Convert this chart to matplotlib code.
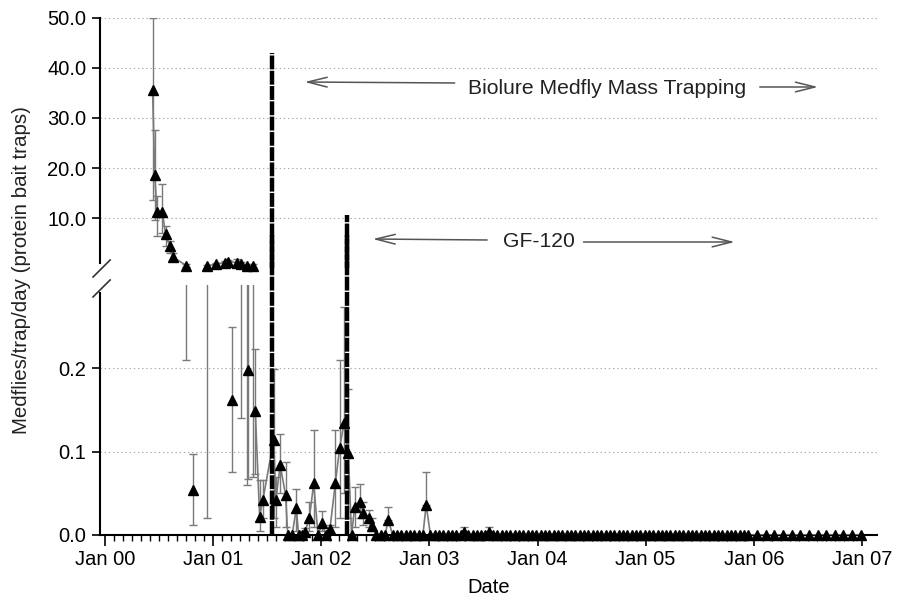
import numpy as np
import matplotlib.pyplot as plt

plt.rcParams['font.family'] = ['Liberation Sans', 'DejaVu Sans']
plt.rcParams['lines.scale_dashes'] = False

# dates are decimal years
# upper panel: high counts in 2000 / early 2001
top_x = [2000.44, 2000.46, 2000.48, 2000.53, 2000.56, 2000.60, 2000.63, 2000.75,
         2000.94, 2001.03, 2001.11, 2001.14, 2001.22, 2001.26, 2001.31, 2001.37]
top_y = [35.5, 18.6, 11.3, 11.3, 6.8, 4.4, 2.2, 0.5,
         0.4, 0.8, 1.1, 1.3, 1.1, 0.9, 0.5, 0.5]
top_lo = [13.6, 9.6, 6.4, 7.0, 4.5, 3.0, 1.5, 0.21,
          0.02, 0.5, 0.7, 0.9, 0.6, 0.14, 0.06, 0.07]
top_hi = [50.0, 27.6, 14.5, 16.8, 8.5, 5.5, 3.0, 0.8,
          0.7, 1.1, 1.5, 1.7, 1.8, 1.3, 0.8, 0.8]
top_split = 8   # first run is 2000, second run is 2001

# lower panel: low counts
low_x = [2000.81, 2001.17, 2001.32, 2001.39, 2001.43, 2001.46, 2001.56, 2001.58, 2001.62, 2001.67,
         2001.69, 2001.73, 2001.77, 2001.79, 2001.82, 2001.85, 2001.89, 2001.93, 2001.97, 2002.01,
         2002.04, 2002.08, 2002.13, 2002.17, 2002.21, 2002.25, 2002.28, 2002.31, 2002.36, 2002.39,
         2002.44, 2002.47]
low_y = [0.054, 0.162, 0.198, 0.149, 0.022, 0.042, 0.114, 0.042, 0.084, 0.048,
         0.0, 0.0, 0.032, 0.0, 0.0, 0.004, 0.020, 0.062, 0.0, 0.014,
         0.0, 0.007, 0.062, 0.104, 0.134, 0.098, 0.0, 0.034, 0.040, 0.026,
         0.020, 0.011]
low_lo = [0.012, 0.076, 0.067, 0.073, 0.005, 0.020, 0.020, 0.010, 0.050, 0.010,
          0.0, 0.0, 0.005, 0.0, 0.0, 0.0, 0.005, 0.010, 0.0, 0.005,
          0.0, 0.0, 0.010, 0.020, 0.050, 0.020, 0.0, 0.010, 0.020, 0.012,
          0.010, 0.005]
low_hi = [0.097, 0.249, 0.400, 0.223, 0.066, 0.066, 0.199, 0.070, 0.121, 0.087,
          0.0, 0.0, 0.055, 0.0, 0.0, 0.008, 0.040, 0.126, 0.0, 0.029,
          0.0, 0.012, 0.126, 0.210, 0.274, 0.175, 0.0, 0.057, 0.061, 0.040,
          0.030, 0.020]
low_split = 3   # first three points stand alone

# 2002.5 - 2007: mostly zero catches
tail_x = [2002.51, 2002.55, 2002.59, 2002.62, 2002.66, 2002.70, 2002.74, 2002.78, 2002.82, 2002.86,
          2002.90, 2002.94, 2002.97, 2003.01, 2003.05, 2003.09, 2003.13, 2003.17, 2003.21, 2003.25,
          2003.29, 2003.32, 2003.36, 2003.40, 2003.44, 2003.48, 2003.51, 2003.55, 2003.59, 2003.63,
          2003.67, 2003.71, 2003.75, 2003.79, 2003.83, 2003.87, 2003.91, 2003.95, 2003.99,
          2004.03, 2004.07, 2004.11, 2004.15, 2004.19, 2004.23, 2004.27, 2004.31, 2004.35, 2004.39,
          2004.43, 2004.47, 2004.51, 2004.55, 2004.59, 2004.63, 2004.67, 2004.71, 2004.75, 2004.79,
          2004.83, 2004.87, 2004.91, 2004.95, 2004.99,
          2005.03, 2005.07, 2005.11, 2005.15, 2005.19, 2005.23, 2005.27, 2005.31, 2005.35, 2005.39,
          2005.43, 2005.47, 2005.51, 2005.55, 2005.59, 2005.63, 2005.67, 2005.71, 2005.75, 2005.79,
          2005.83, 2005.87, 2005.91, 2005.95,
          2006.03, 2006.11, 2006.19, 2006.27, 2006.35, 2006.43, 2006.51, 2006.59, 2006.67, 2006.75,
          2006.83, 2006.91, 2006.99]
tail_y = [0.0] * len(tail_x)
tail_y[3] = 0.018
tail_y[12] = 0.036
tail_y[21] = 0.004
tail_y[27] = 0.004
tail_hi = list(tail_y)
tail_hi[3] = 0.033
tail_hi[12] = 0.075
tail_hi[21] = 0.010
tail_hi[27] = 0.010

# treatment start lines (date, height on upper scale)
biolure_x, biolure_top = 2001.54, 43.0
gf120_x, gf120_top = 2002.24, 10.6

year_ticks = [2000, 2001, 2002, 2003, 2004, 2005, 2006, 2007]
year_labels = ['Jan 00', 'Jan 01', 'Jan 02', 'Jan 03', 'Jan 04', 'Jan 05', 'Jan 06', 'Jan 07']

fig = plt.figure(figsize=(9.02, 6.14), dpi=100)
ax_top = fig.add_axes([0.1109, 0.5635, 0.8614, 0.4072])
ax_bot = fig.add_axes([0.1109, 0.1287, 0.8614, 0.4072])

xlim = (1999.954, 2007.14)
line_col = '#7a7a7a'
ms = 6.5

def draw_series(ax, x, y, lo, hi, connect=True, clip_markers=True):
    x = np.array(x); y = np.array(y)
    yerr = [y - np.array(lo), np.array(hi) - y]
    ax.errorbar(x, y, yerr=yerr, fmt='none', ecolor=line_col, elinewidth=1,
                capsize=3, capthick=1, zorder=2)
    if connect:
        ax.plot(x, y, color=line_col, lw=1.2, zorder=3)
    ax.plot(x, y, ls='none', marker='^', ms=ms, color='black', zorder=4,
            clip_on=clip_markers)

# upper panel
draw_series(ax_top, top_x[:top_split], top_y[:top_split], top_lo[:top_split], top_hi[:top_split], clip_markers=False)
draw_series(ax_top, top_x[top_split:], top_y[top_split:], top_lo[top_split:], top_hi[top_split:], clip_markers=False)

# lower panel (upper-panel points fall off the top, only their error bars show)
draw_series(ax_bot, top_x[:top_split], top_y[:top_split], top_lo[:top_split], top_hi[:top_split])
draw_series(ax_bot, top_x[top_split:], top_y[top_split:], top_lo[top_split:], top_hi[top_split:])
for i in range(low_split):
    draw_series(ax_bot, [low_x[i]], [low_y[i]], [low_lo[i]], [low_hi[i]], connect=False, clip_markers=False)
run_x = low_x[low_split:] + tail_x
run_y = low_y[low_split:] + tail_y
run_lo = low_lo[low_split:] + tail_y
run_hi = low_hi[low_split:] + tail_hi
draw_series(ax_bot, run_x, run_y, run_lo, run_hi, clip_markers=False)

# treatment lines: thick black with small white gaps
dash_kw = dict(color='black', lw=3.2, dashes=(10, 1.0), zorder=5)
ax_top.plot([biolure_x, biolure_x], [0, biolure_top], **dash_kw)
ax_top.plot([gf120_x, gf120_x], [0, gf120_top], **dash_kw)
ax_bot.plot([biolure_x, biolure_x], [0, 0.36], clip_on=False, **dash_kw)
ax_bot.plot([gf120_x, gf120_x], [0, 0.36], clip_on=False, **dash_kw)

# axes styling
for ax in (ax_top, ax_bot):
    ax.set_xlim(*xlim)
    ax.spines['top'].set_visible(False)
    ax.spines['right'].set_visible(False)
    ax.spines['left'].set_linewidth(1.5)
    ax.yaxis.grid(True, linestyle=(0, (1, 2)), color='#aaaaaa', lw=0.8)
    ax.set_axisbelow(True)
    ax.tick_params(axis='y', direction='out', length=6, width=1.2, labelsize=14.5, pad=4)

ax_top.set_ylim(0, 50)
ax_top.set_yticks([10, 20, 30, 40, 50])
ax_top.set_yticklabels(['10.0', '20.0', '30.0', '40.0', '50.0'])
ax_top.spines['bottom'].set_visible(False)
ax_top.set_xticks([])
ax_top.spines['left'].set_bounds(1, 50)

ax_bot.set_ylim(0, 0.3)
ax_bot.set_yticks([0.0, 0.1, 0.2])
ax_bot.set_yticklabels(['0.0', '0.1', '0.2'])
ax_bot.spines['bottom'].set_linewidth(1.5)
ax_bot.spines['left'].set_bounds(0, 0.29)
ax_bot.set_xticks(year_ticks)
ax_bot.set_xticklabels(year_labels)
ax_bot.set_xticks([2000 + k / 12 for k in range(85)], minor=True)
ax_bot.tick_params(axis='x', which='major', direction='out', length=8, width=1.2, labelsize=14.5, pad=3)
ax_bot.tick_params(axis='x', which='minor', direction='out', length=4, width=1.0)
ax_bot.set_xlabel('Date', fontsize=14.5, labelpad=6)

# break marks on the y axis
brk = dict(color='#333333', lw=1.2, clip_on=False)
ax_top.plot([-0.009, 0.013], [-0.036, 0.032], transform=ax_top.transAxes, **brk)
ax_bot.plot([-0.009, 0.013], [0.952, 1.02], transform=ax_bot.transAxes, **brk)

fig.text(0.024, 0.560, 'Medflies/trap/day (protein bait traps)', rotation=90,
         fontsize=14.8, ha='center', va='center', color='#222222')

# treatment annotations
arr = dict(arrowstyle='->,head_length=1.4,head_width=0.35', color='#555555', lw=1.1)
ax_top.annotate('', xy=(2001.82, 37.2), xytext=(2003.26, 37.0), arrowprops=arr)
ax_top.text(2004.64, 35.8, 'Biolure Medfly Mass Trapping', fontsize=15.2,
            ha='center', va='center', color='#222222')
ax_top.annotate('', xy=(2006.62, 36.2), xytext=(2006.03, 36.2), arrowprops=arr)
ax_top.annotate('', xy=(2002.45, 5.8), xytext=(2003.56, 5.6), arrowprops=arr)
ax_top.text(2004.01, 5.3, 'GF-120', fontsize=15.2, ha='center', va='center', color='#222222')
ax_top.annotate('', xy=(2005.85, 5.2), xytext=(2004.40, 5.2), arrowprops=arr)

fig.savefig('out.png', dpi=100)
